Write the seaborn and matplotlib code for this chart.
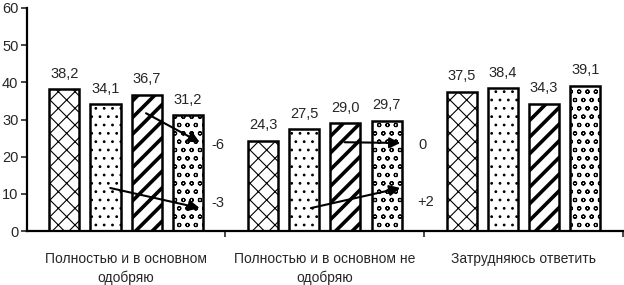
import matplotlib
matplotlib.use("Agg")
import matplotlib.pyplot as plt
import seaborn as sns
import pandas as pd

# categories and series (4 bars per group)
categories = ["Полностью и в основном\nодобряю",
              "Полностью и в основном не\nодобряю",
              "Затрудняюсь ответить"]
series = ["Ряд 1", "Ряд 2", "Ряд 3", "Ряд 4"]
values = {
    "Ряд 1": [38.2, 24.3, 37.5],
    "Ряд 2": [34.1, 27.5, 38.4],
    "Ряд 3": [36.7, 29.0, 34.3],
    "Ряд 4": [31.2, 29.7, 39.1],
}
# change arrows: (start x, start y, end x, end y, label x, label y, text)
arrows = [
    (0.10, 31.7, 0.37, 23.9, 0.46, 23.1, "-6"),
    (-0.08, 11.6, 0.37, 6.2, 0.46, 7.5, "-3"),
    (1.10, 23.9, 1.38, 23.7, 1.49, 23.1, "0"),
    (0.93, 6.2, 1.38, 11.6, 1.51, 7.8, "+2"),
]
y_ticks = [0, 10, 20, 30, 40, 50, 60]

rows = []
for s in series:
    for c, v in zip(categories, values[s]):
        rows.append({"cat": c, "val": v, "series": s})
df = pd.DataFrame(rows)

sns.set_style("white")
plt.rcParams["font.family"] = ["Liberation Sans", "DejaVu Sans"]
plt.rcParams["font.size"] = 10.5

fig, ax = plt.subplots(figsize=(6.24, 2.85), dpi=100)
fig.subplots_adjust(left=0.043, right=0.998, bottom=0.189, top=0.972)

sns.barplot(data=df, x="cat", y="val", hue="series", order=categories,
            hue_order=series, palette=["white"] * 4, width=0.83, gap=0.27,
            edgecolor="black", linewidth=1.8, legend=False, ax=ax)

hatches = ["xx", "..", "//", "oo"]
for cont, h in zip(ax.containers, hatches):
    for bar in cont:
        bar.set_hatch(h)
        try:
            bar.set_hatch_linewidth(2.6 if h == "//" else 0.8)
        except AttributeError:
            pass
    ax.bar_label(cont, labels=[f"{b.get_height():.1f}".replace(".", ",") for b in cont],
                 padding=6, fontsize=10.5)

for x0, y0, x1, y1, tx, ty, t in arrows:
    ax.annotate("", xy=(x1, y1), xytext=(x0, y0),
                arrowprops=dict(arrowstyle="-|>", color="black", lw=1.5,
                                mutation_scale=16, shrinkA=0, shrinkB=0))
    ax.text(tx, ty, t, ha="center", va="center", fontsize=10.5)

ax.set_xlim(-0.5, 2.5)
ax.set_ylim(0, 60)
ax.set_yticks(y_ticks)
ax.set_xticks([0.5, 1.5, 2.5])
ax.set_xticklabels([])
ax.set_xticks([0, 1, 2], minor=True)
ax.set_xticklabels(categories, minor=True, fontsize=10, linespacing=1.4)
ax.tick_params(axis="x", which="major", length=4, width=1.2, direction="out", bottom=True)
ax.tick_params(axis="x", which="minor", length=0, pad=15)
ax.tick_params(axis="y", length=4, width=1.2, direction="out", left=True, pad=2)
ax.set_xlabel("")
ax.set_ylabel("")
sns.despine(ax=ax)
for sp in ["left", "bottom"]:
    ax.spines[sp].set_linewidth(1.6)
    ax.spines[sp].set_color("black")

fig.savefig("out.png", dpi=100)
